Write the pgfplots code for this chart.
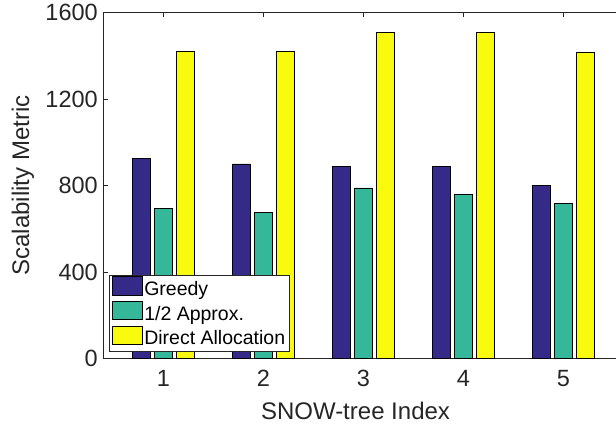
\documentclass[border=0pt]{standalone}
\usepackage{pgfplots}
\pgfplotsset{compat=1.18}
\usepackage{fontspec}
\setmainfont{Liberation Sans}
\usetikzlibrary{calc}
\definecolor{greedy}{RGB}{53,42,135}
\definecolor{approx}{RGB}{53,183,154}
\definecolor{direct}{RGB}{249,251,14}
\definecolor{axgray}{RGB}{38,38,38}

\begin{document}
\begin{tikzpicture}
\begin{axis}[
    name=ax,
    scale only axis,
    width=520pt, height=346.2pt,
    xmin=0.4, xmax=5.6,
    ymin=0, ymax=1600,
    enlarge x limits=false,
    ybar=4pt, bar width=18pt,
    xtick={1,2,3,4,5},
    ytick={0,400,800,1200,1600},
    tick align=inside,
    major tick length=4.5pt,
    axis line style={axgray, line width=0.8pt},
    every tick/.style={axgray, line width=0.6pt},
    tick label style={font=\fontsize{23.5}{28}\selectfont, text=axgray},
    /pgf/number format/assume math mode=true,
    /pgf/number format/1000 sep={},
    xticklabel style={yshift=-8pt},
    yticklabel style={xshift=-2pt},
    xlabel={SNOW-tree Index},
    ylabel={Scalability Metric},
    every axis x label/.style={at={(axis description cs:0.485,-0.177)}, anchor=base,
        font=\fontsize{24}{28}\selectfont, text=axgray},
    every axis y label/.style={at={(axis description cs:-0.1544,0.5)}, anchor=center, rotate=90,
        font=\fontsize{24}{28}\selectfont, text=axgray},
    legend image code/.code={\draw[#1] (0pt,-2.35pt) rectangle (30pt,16.35pt);},
    legend style={
        at={(axis description cs:0.0115,0.0202)}, anchor=south west,
        font=\fontsize{19.5}{22}\selectfont,
        draw=axgray, line width=0.6pt,
        inner xsep=2pt, inner ysep=1pt,
        nodes={inner xsep=2pt, inner ysep=3.3pt, text depth=0.22em, text height=0.75em, text=black},
    },
    legend cell align=left,
]
\addplot[fill=greedy, draw=black, line width=0.7pt] coordinates {(1,925) (2,900) (3,889) (4,889) (5,800)};
\addplot[fill=approx, draw=black, line width=0.7pt] coordinates {(1,693) (2,677) (3,789) (4,760) (5,716)};
\addplot[fill=direct, draw=black, line width=0.7pt] coordinates {(1,1419) (2,1419) (3,1508) (4,1508) (5,1416)};
\legend{Greedy, 1/2 Approx., Direct Allocation}
\end{axis}
\pgfresetboundingbox
\path[use as bounding box] ($(ax.south west)+(-103.3pt,-68.3pt)$) rectangle ($(ax.north west)+(512.7pt,12.5pt)$);
\end{tikzpicture}
\end{document}
